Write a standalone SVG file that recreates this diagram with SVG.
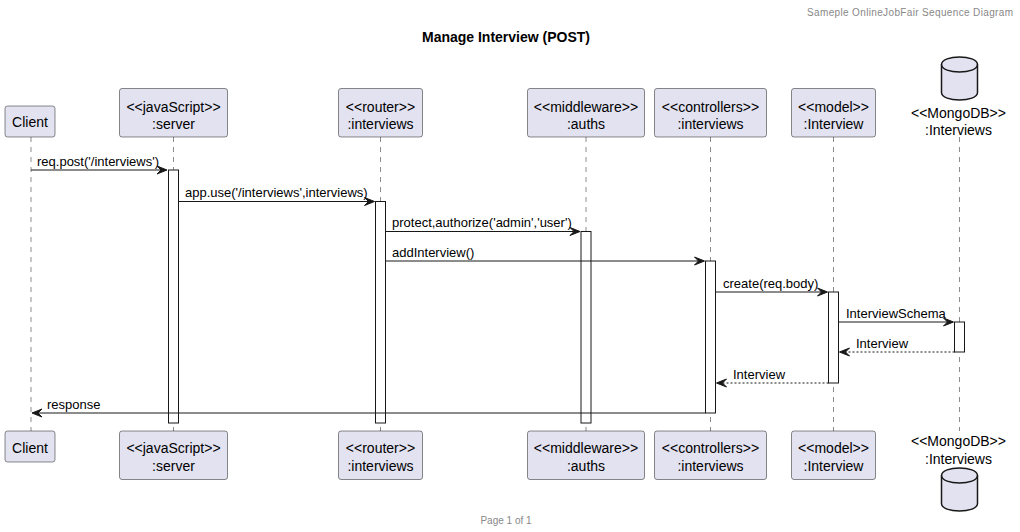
<svg xmlns="http://www.w3.org/2000/svg" width="1020" height="532" viewBox="0 0 1020 532">
<style>
text{font-family:"Liberation Sans",Arial,sans-serif;fill:#000}
.p{fill:#E2E2F0;stroke:#181818;stroke-width:0.5}
.pt{font-size:14px;text-anchor:middle}
.ll{stroke:#181818;stroke-width:0.5;stroke-dasharray:5,5;fill:none}
.act{fill:#FFFFFF;stroke:#181818;stroke-width:1}
.msg{stroke:#181818;stroke-width:1;fill:none}
.ret{stroke:#181818;stroke-width:1;stroke-dasharray:2,2;fill:none}
.ah{fill:#181818;stroke:#181818;stroke-width:1}
.mt{font-size:13px}
.hf{font-size:10px;fill:#888888}
</style>
<defs>
<path id="db" d="M0,10 C0,0 36,0 36,10 L36,38 C36,48 0,48 0,38 L0,10 Z" fill="#E2E2F0" stroke="#181818" stroke-width="1.5"/>
<path id="dbi" d="M0,10 C0,20 36,20 36,10" fill="none" stroke="#181818" stroke-width="1.5"/>
</defs>
<text class="hf" x="1013" y="16" text-anchor="end" textLength="206" lengthAdjust="spacing">Sameple OnlineJobFair Sequence Diagram</text>
<text x="506" y="42" font-size="14" font-weight="bold" text-anchor="middle">Manage Interview (POST)</text>
<text class="hf" x="506" y="524" text-anchor="middle">Page 1 of 1</text>

<g id="lifelines">
<line class="ll" x1="31" y1="137" x2="31" y2="431"/>
<line class="ll" x1="173.5" y1="137" x2="173.5" y2="431"/>
<line class="ll" x1="380.5" y1="137" x2="380.5" y2="431"/>
<line class="ll" x1="586" y1="137" x2="586" y2="431"/>
<line class="ll" x1="710.5" y1="137" x2="710.5" y2="431"/>
<line class="ll" x1="833.5" y1="137" x2="833.5" y2="431"/>
<line class="ll" x1="959.5" y1="137" x2="959.5" y2="431"/>
</g>

<g id="activations">
<rect class="act" x="168.5" y="170" width="10" height="253"/>
<rect class="act" x="375.5" y="201.5" width="10" height="221.5"/>
<rect class="act" x="581" y="231.5" width="10" height="191.5"/>
<rect class="act" x="705.5" y="261" width="10" height="152"/>
<rect class="act" x="828.5" y="292" width="10" height="91"/>
<rect class="act" x="954.5" y="322" width="10" height="30"/>
</g>

<g id="Client">
<rect class="p" x="5" y="106" width="50" height="31" rx="2.5"/>
<text class="pt" x="30" y="126.5">Client</text>
<rect class="p" x="5" y="431" width="50" height="31" rx="2.5"/>
<text class="pt" x="30" y="452.5">Client</text>
</g>
<g id="server">
<rect class="p" x="119.5" y="88.5" width="108" height="48.5" rx="2.5"/>
<text class="pt" x="173.5" y="111.5">&lt;&lt;javaScript&gt;&gt;</text>
<text class="pt" x="173.5" y="128.5">:server</text>
<rect class="p" x="119.5" y="431" width="108" height="48.5" rx="2.5"/>
<text class="pt" x="173.5" y="453">&lt;&lt;javaScript&gt;&gt;</text>
<text class="pt" x="173.5" y="470.5">:server</text>
</g>
<g id="router">
<rect class="p" x="338.5" y="88.5" width="84" height="48.5" rx="2.5"/>
<text class="pt" x="380.5" y="111.5">&lt;&lt;router&gt;&gt;</text>
<text class="pt" x="380.5" y="128.5">:interviews</text>
<rect class="p" x="338.5" y="431" width="84" height="48.5" rx="2.5"/>
<text class="pt" x="380.5" y="453">&lt;&lt;router&gt;&gt;</text>
<text class="pt" x="380.5" y="470.5">:interviews</text>
</g>
<g id="auths">
<rect class="p" x="527.5" y="88.5" width="117" height="48.5" rx="2.5"/>
<text class="pt" x="586" y="111.5">&lt;&lt;middleware&gt;&gt;</text>
<text class="pt" x="586" y="128.5">:auths</text>
<rect class="p" x="527.5" y="431" width="117" height="48.5" rx="2.5"/>
<text class="pt" x="586" y="453">&lt;&lt;middleware&gt;&gt;</text>
<text class="pt" x="586" y="470.5">:auths</text>
</g>
<g id="controllers">
<rect class="p" x="654.5" y="88.5" width="112" height="48.5" rx="2.5"/>
<text class="pt" x="710.5" y="111.5">&lt;&lt;controllers&gt;&gt;</text>
<text class="pt" x="710.5" y="128.5">:interviews</text>
<rect class="p" x="654.5" y="431" width="112" height="48.5" rx="2.5"/>
<text class="pt" x="710.5" y="453">&lt;&lt;controllers&gt;&gt;</text>
<text class="pt" x="710.5" y="470.5">:interviews</text>
</g>
<g id="model">
<rect class="p" x="791.5" y="88.5" width="84" height="48.5" rx="2.5"/>
<text class="pt" x="833.5" y="111.5">&lt;&lt;model&gt;&gt;</text>
<text class="pt" x="833.5" y="128.5">:Interview</text>
<rect class="p" x="791.5" y="431" width="84" height="48.5" rx="2.5"/>
<text class="pt" x="833.5" y="453">&lt;&lt;model&gt;&gt;</text>
<text class="pt" x="833.5" y="470.5">:Interview</text>
</g>
<g id="mongodb">
<use href="#db" x="941.5" y="54.5"/>
<use href="#dbi" x="941.5" y="54.5"/>
<text class="pt" x="958.5" y="118">&lt;&lt;MongoDB&gt;&gt;</text>
<text class="pt" x="958.5" y="135">:Interviews</text>
<text class="pt" x="958.5" y="446">&lt;&lt;MongoDB&gt;&gt;</text>
<text class="pt" x="958.5" y="463.5">:Interviews</text>
<use href="#db" x="941.5" y="465.5"/>
<use href="#dbi" x="941.5" y="465.5"/>
</g>

<g id="connectors">
<line class="msg" x1="31" y1="170" x2="166" y2="170"/>
<polygon class="ah" points="167,170 157,166 161,170 157,174"/>
<text class="mt" x="37" y="165.5">req.post('/interviews')</text>

<line class="msg" x1="178.5" y1="201.5" x2="373" y2="201.5"/>
<polygon class="ah" points="374.5,201.5 364.5,197.5 368.5,201.5 364.5,205.5"/>
<text class="mt" x="185" y="197">app.use('/interviews',interviews)</text>

<line class="msg" x1="385.5" y1="231.5" x2="579" y2="231.5"/>
<polygon class="ah" points="580,231.5 570,227.5 574,231.5 570,235.5"/>
<text class="mt" x="392" y="227">protect,authorize('admin','user')</text>

<line class="msg" x1="385.5" y1="261" x2="703" y2="261"/>
<polygon class="ah" points="704.5,261 694.5,257 698.5,261 694.5,265"/>
<text class="mt" x="392" y="256.5">addInterview()</text>

<line class="msg" x1="715.5" y1="292" x2="826" y2="292"/>
<polygon class="ah" points="827.5,292 817.5,288 821.5,292 817.5,296"/>
<text class="mt" x="723" y="287.5">create(req.body)</text>

<line class="msg" x1="838.5" y1="322" x2="952" y2="322"/>
<polygon class="ah" points="953.5,322 943.5,318 947.5,322 943.5,326"/>
<text class="mt" x="846" y="317.5">InterviewSchema</text>

<line class="ret" x1="954.5" y1="352" x2="841" y2="352"/>
<polygon class="ah" points="839.5,352 849.5,348 845.5,352 849.5,356"/>
<text class="mt" x="856" y="347.5">Interview</text>

<line class="ret" x1="828.5" y1="383" x2="718" y2="383"/>
<polygon class="ah" points="716.5,383 726.5,379 722.5,383 726.5,387"/>
<text class="mt" x="733" y="378.5">Interview</text>

<line class="msg" x1="705.5" y1="413" x2="34" y2="413"/>
<polygon class="ah" points="32,413 42,409 38,413 42,417"/>
<text class="mt" x="47" y="408.5">response</text>
</g>
</svg>
